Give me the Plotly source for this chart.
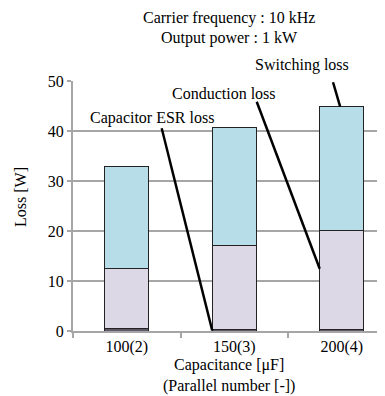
import plotly.graph_objects as go

categories = ["100(2)", "150(3)", "200(4)"]
esr_loss = [0.5, 0.4, 0.4]
conduction_loss = [12.0, 16.7, 19.7]
switching_loss = [20.4, 23.6, 24.8]
y_ticks = [0, 10, 20, 30, 40, 50]

FONT = "Liberation Serif, Times New Roman, serif"
W = 0.41
OFF = 8  # page body margin

fig = go.Figure()
fig.add_trace(go.Bar(x=categories, y=esr_loss, name="Capacitor ESR loss",
                     marker=dict(color="#5E5868", line=dict(color="#222222", width=1)), width=W))
fig.add_trace(go.Bar(x=categories, y=conduction_loss, name="Conduction loss",
                     marker=dict(color="#DDD8E5", line=dict(color="#222222", width=1)), width=W))
fig.add_trace(go.Bar(x=categories, y=switching_loss, name="Switching loss",
                     marker=dict(color="#B7DDE8", line=dict(color="#222222", width=1)), width=W))

totals = [a + b + c for a, b, c in zip(esr_loss, conduction_loss, switching_loss)]
cond_top = [a + b for a, b in zip(esr_loss, conduction_loss)]

fig.update_layout(
    barmode="stack",
    width=385 - OFF, height=396 - OFF,
    margin=dict(l=73 - OFF, r=0, t=81 - OFF, b=65, pad=0),
    paper_bgcolor="white", plot_bgcolor="white",
    showlegend=False,
    font=dict(family=FONT, size=16, color="black"),
    xaxis=dict(type="category", range=[-0.5, -0.5 + 312 / 107.5],
               showline=True, linecolor="#A6A6A6", linewidth=2,
               ticks="outside", ticklen=5, tickcolor="#A6A6A6", tickwidth=2,
               tickson="boundaries", showgrid=False,
               tickfont=dict(family=FONT, size=16, color="black")),
    yaxis=dict(range=[0, 50.05], tickvals=y_ticks,
               showline=True, linecolor="#A6A6A6", linewidth=2,
               ticks="outside", ticklen=4, tickcolor="#A6A6A6", tickwidth=2,
               showgrid=True, gridcolor="#A6A6A6", gridwidth=2,
               zeroline=False,
               tickfont=dict(family=FONT, size=16, color="black")),
)

# partial cover of top gridline (hidden by label box in reference)
fig.add_shape(type="rect", xref="paper", yref="y", x0=(158 - 73) / 312, x1=1.0,
              y0=49.4, y1=50.6, fillcolor="white", line=dict(width=0), layer="above")

# leader lines
line_style = dict(color="black", width=2.5)
fig.add_shape(type="line", xref="x", yref="y", x0=0.325, y0=40.6, x1=1 - W / 2, y1=0.1, line=line_style)
fig.add_shape(type="line", xref="x", yref="y", x0=1.209, y0=45.9, x1=2 - W / 2, y1=cond_top[2] * 0.62, line=line_style)
fig.add_shape(type="line", xref="x", yref="y", x0=1.919, y0=49.8, x1=1.985, y1=totals[2], line=line_style)

def ann(text, x, y, xref="paper"):
    fig.add_annotation(text=text, x=x, y=y, xref=xref, yref="paper", showarrow=False,
                       xanchor="center", yanchor="middle",
                       font=dict(family=FONT, size=16, color="black"))

ann("Capacitor ESR loss", 0.232, (331 - 118) / 250, xref="x")
ann("Conduction loss", 0.905, (331 - 93) / 250, xref="x")
ann("Switching loss", 1.626, (331 - 65) / 250, xref="x")
ann("Carrier frequency : 10 kHz", 0.5, (331 - 18) / 250)
ann("Output power : 1 kW", 0.5, (331 - 38) / 250)
ann("Capacitance [μF]", 0.5, (331 - 365) / 250)
ann("(Parallel number [-])", 0.5, (331 - 386) / 250)

fig.add_annotation(text="Loss [W]", x=-53 / 312, y=(331 - 197) / 250, xref="paper", yref="paper",
                   showarrow=False, textangle=-90, xanchor="center", yanchor="middle",
                   font=dict(family=FONT, size=16, color="black"))

fig.write_html("out.html")
